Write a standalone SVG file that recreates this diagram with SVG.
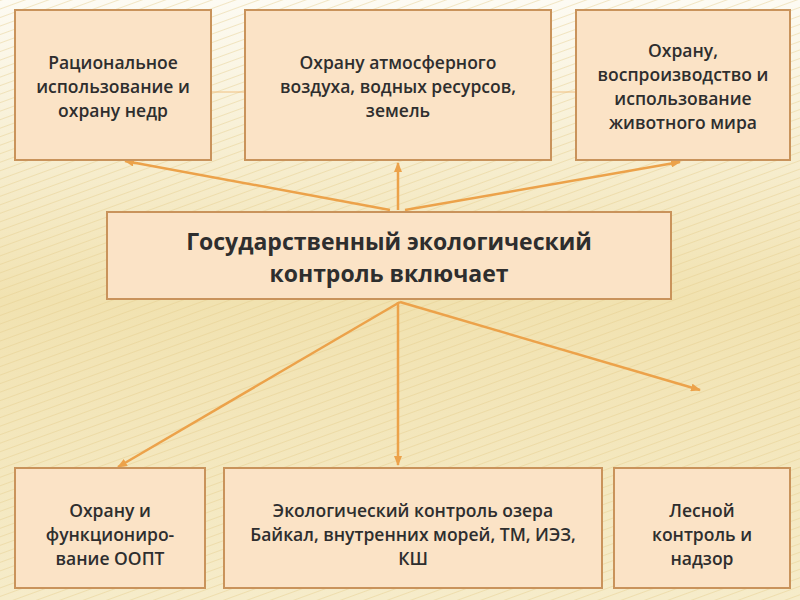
<svg xmlns="http://www.w3.org/2000/svg" width="800" height="600" viewBox="0 0 800 600">
<defs>
<linearGradient id="bg" x1="0" y1="0" x2="0" y2="1">
<stop offset="0" stop-color="#fdfbf3"/><stop offset="0.5" stop-color="#f1e2b0"/><stop offset="1" stop-color="#f6ecca"/>
</linearGradient>
<pattern id="st" width="8" height="8" patternUnits="userSpaceOnUse" patternTransform="rotate(-20)">
<line x1="0" y1="0" x2="8" y2="0" stroke="#e4cc8c" stroke-width="1.5" opacity="0.6"/>
</pattern>
<marker id="ah" markerWidth="10" markerHeight="8" refX="9" refY="4" orient="auto" markerUnits="userSpaceOnUse">
<path d="M0,0 L10,4 L0,8 Z" fill="#eca24a"/>
</marker>
<style>
.box{fill:#fbe3c6;stroke:#c9935b;stroke-width:2}
.t{font-family:"Open Sans","Liberation Sans",Arial,sans-serif;font-weight:600;font-size:17.5px;fill:#2e2e2e;text-anchor:middle}
.big{font-size:23px;font-weight:700}
.c{stroke:#eca24a;stroke-width:2.5;fill:none;marker-end:url(#ah)}
.thin{stroke:#f0c080;stroke-width:1}
</style>
</defs>
<rect width="800" height="600" fill="url(#bg)"/>
<rect width="800" height="600" fill="url(#st)"/>
<g id="connectors">
<line class="thin" x1="211" y1="92" x2="245" y2="92"/>
<line class="thin" x1="551" y1="92" x2="576" y2="92"/>
<line class="c" x1="390" y1="210" x2="125" y2="161"/>
<line class="c" x1="398" y1="210" x2="398" y2="163"/>
<line class="c" x1="405" y1="210" x2="680" y2="162"/>
<line class="c" x1="400" y1="302" x2="118" y2="467"/>
<line class="c" x1="398" y1="302" x2="398" y2="465"/>
<line class="c" x1="400" y1="302" x2="700" y2="390"/>
</g>
<g id="n1"><rect class="box" x="15" y="10" width="196" height="150"/>
<text class="t" x="113" y="69">Рациональное</text><text class="t" x="113" y="93">использование  и</text><text class="t" x="113" y="117">охрану недр</text></g>
<g id="n2"><rect class="box" x="245" y="10" width="306" height="150"/>
<text class="t" x="398" y="69">Охрану атмосферного</text><text class="t" x="398" y="93">воздуха, водных ресурсов,</text><text class="t" x="398" y="117">земель</text></g>
<g id="n3"><rect class="box" x="576" y="10" width="214" height="150"/>
<text class="t" x="683" y="57">Охрану,</text><text class="t" x="683" y="81">воспроизводство и</text><text class="t" x="683" y="105">использование</text><text class="t" x="683" y="129">животного мира</text></g>
<g id="center"><rect class="box" x="107" y="212" width="564" height="87"/>
<text class="t big" x="389" y="250">Государственный экологический</text><text class="t big" x="389" y="282">контроль включает</text></g>
<g id="b1"><rect class="box" x="15" y="468" width="190" height="120"/>
<text class="t" x="110" y="517">Охрану и</text><text class="t" x="110" y="541">функциониро-</text><text class="t" x="110" y="565">вание ООПТ</text></g>
<g id="b2"><rect class="box" x="224" y="468" width="378" height="120"/>
<text class="t" x="413" y="517">Экологический контроль озера</text><text class="t" x="413" y="541">Байкал, внутренних морей, ТМ, ИЭЗ,</text><text class="t" x="413" y="565">КШ</text></g>
<g id="b3"><rect class="box" x="614" y="468" width="176" height="120"/>
<text class="t" x="702" y="517">Лесной</text><text class="t" x="702" y="541">контроль и</text><text class="t" x="702" y="565">надзор</text></g>
</svg>
